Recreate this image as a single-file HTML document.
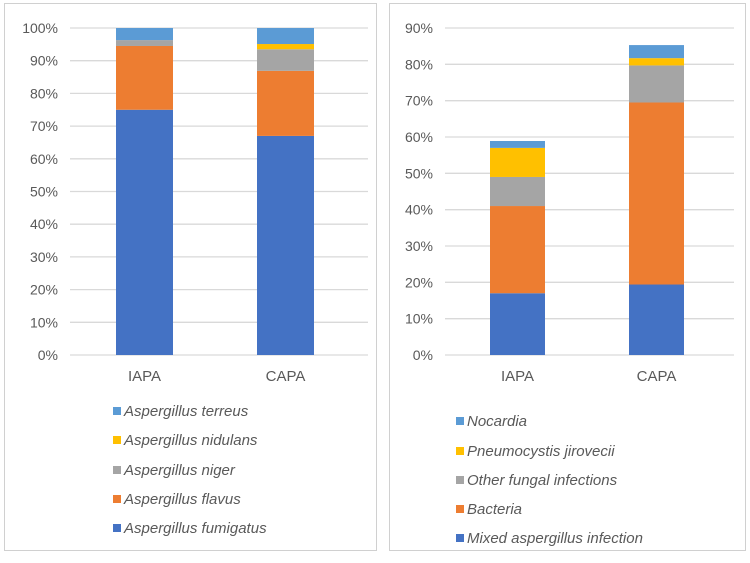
<!DOCTYPE html>
<html><head><meta charset="utf-8"><style>
body{margin:0;background:#fff;width:750px;height:558px;overflow:hidden;font-family:"Liberation Sans",Arial,sans-serif}
svg text{font-family:"Liberation Sans",Arial,sans-serif;fill:#595959}
</style></head><body>
<svg id="c" width="750" height="558">
<rect x="4.5" y="3.5" width="372" height="547" fill="#fff" stroke="#d0d0d0"/>
<rect x="389.5" y="3.5" width="356" height="547" fill="#fff" stroke="#d0d0d0"/>
</svg>
<script>
const categories=["IAPA","CAPA"];
const colors=["#4472c4","#ed7d31","#a5a5a5","#ffc000","#5b9bd5"];
const leftSeries=["Aspergillus fumigatus","Aspergillus flavus","Aspergillus niger","Aspergillus nidulans","Aspergillus terreus"];
const leftFumigatus=[75,67];
const leftFlavus=[19.5,19.9];
const leftNiger=[1.8,6.6];
const leftNidulans=[0,1.6];
const leftTerreus=[3.7,4.9];
const leftTicks=[0,10,20,30,40,50,60,70,80,90,100];
const rightSeries=["Mixed aspergillus infection","Bacteria","Other fungal infections","Pneumocystis jirovecii","Nocardia"];
const rightMixed=[17,19.4];
const rightBacteria=[24,50.1];
const rightOther=[8,10.2];
const rightPneumo=[8,2];
const rightNocardia=[1.9,3.6];
const rightTicks=[0,10,20,30,40,50,60,70,80,90];
const NS="http://www.w3.org/2000/svg";
const svg=document.getElementById('c');
function mk(t,a,p){const e=document.createElementNS(NS,t);for(const k in a)e.setAttribute(k,a[k]);(p||svg).appendChild(e);return e;}
function draw(cfg){
  const y=v=>cfg.y0-(v/cfg.max)*(cfg.y0-cfg.yTop);
  cfg.ticks.forEach(t=>{
    const l=mk('line',{x1:cfg.gx0,x2:cfg.gx1,y1:y(t),y2:y(t),stroke:'#d9d9d9','stroke-width':1.3});
    
    
    const tx=mk('text',{x:cfg.labX,y:y(t)+5,'text-anchor':'end','font-size':14});
    tx.textContent=t+'%';
    
    
  });
  categories.forEach((c,i)=>{
    let acc=0;
    cfg.series.forEach((s,j)=>{
      const v=cfg.vals[j][i];
      if(v>0){
        const r=mk('rect',{x:cfg.bx[i],y:y(acc+v),width:cfg.bw,height:y(acc)-y(acc+v),fill:colors[j]});
        
        
      }
      acc+=v;
    });
    const t=mk('text',{x:cfg.bx[i]+cfg.bw/2,y:381,'text-anchor':'middle','font-size':15});
    t.textContent=c;
    
    
  });
  for(let j=cfg.series.length-1,k=0;j>=0;j--,k++){
    const yy=cfg.legY[k];
    const m=mk('rect',{x:cfg.legX,y:yy-4,width:8,height:8,fill:colors[j]});
    
    
    const t=mk('text',{x:cfg.legX+11,y:yy+5,'font-size':15,'font-style':'italic'});
    t.textContent=cfg.series[j];
    
    
  }
}
draw({y0:355,yTop:28,max:100,ticks:leftTicks,gx0:70,gx1:368,labX:58,bx:[116,257],bw:57,series:leftSeries,
  vals:[leftFumigatus,leftFlavus,leftNiger,leftNidulans,leftTerreus],legX:113,legY:[411,440,470,499,528]});
draw({y0:355,yTop:28,max:90,ticks:rightTicks,gx0:445,gx1:734,labX:433,bx:[490,629],bw:55,series:rightSeries,
  vals:[rightMixed,rightBacteria,rightOther,rightPneumo,rightNocardia],legX:456,legY:[421,451,480,509,538]});
</script>
</body></html>
